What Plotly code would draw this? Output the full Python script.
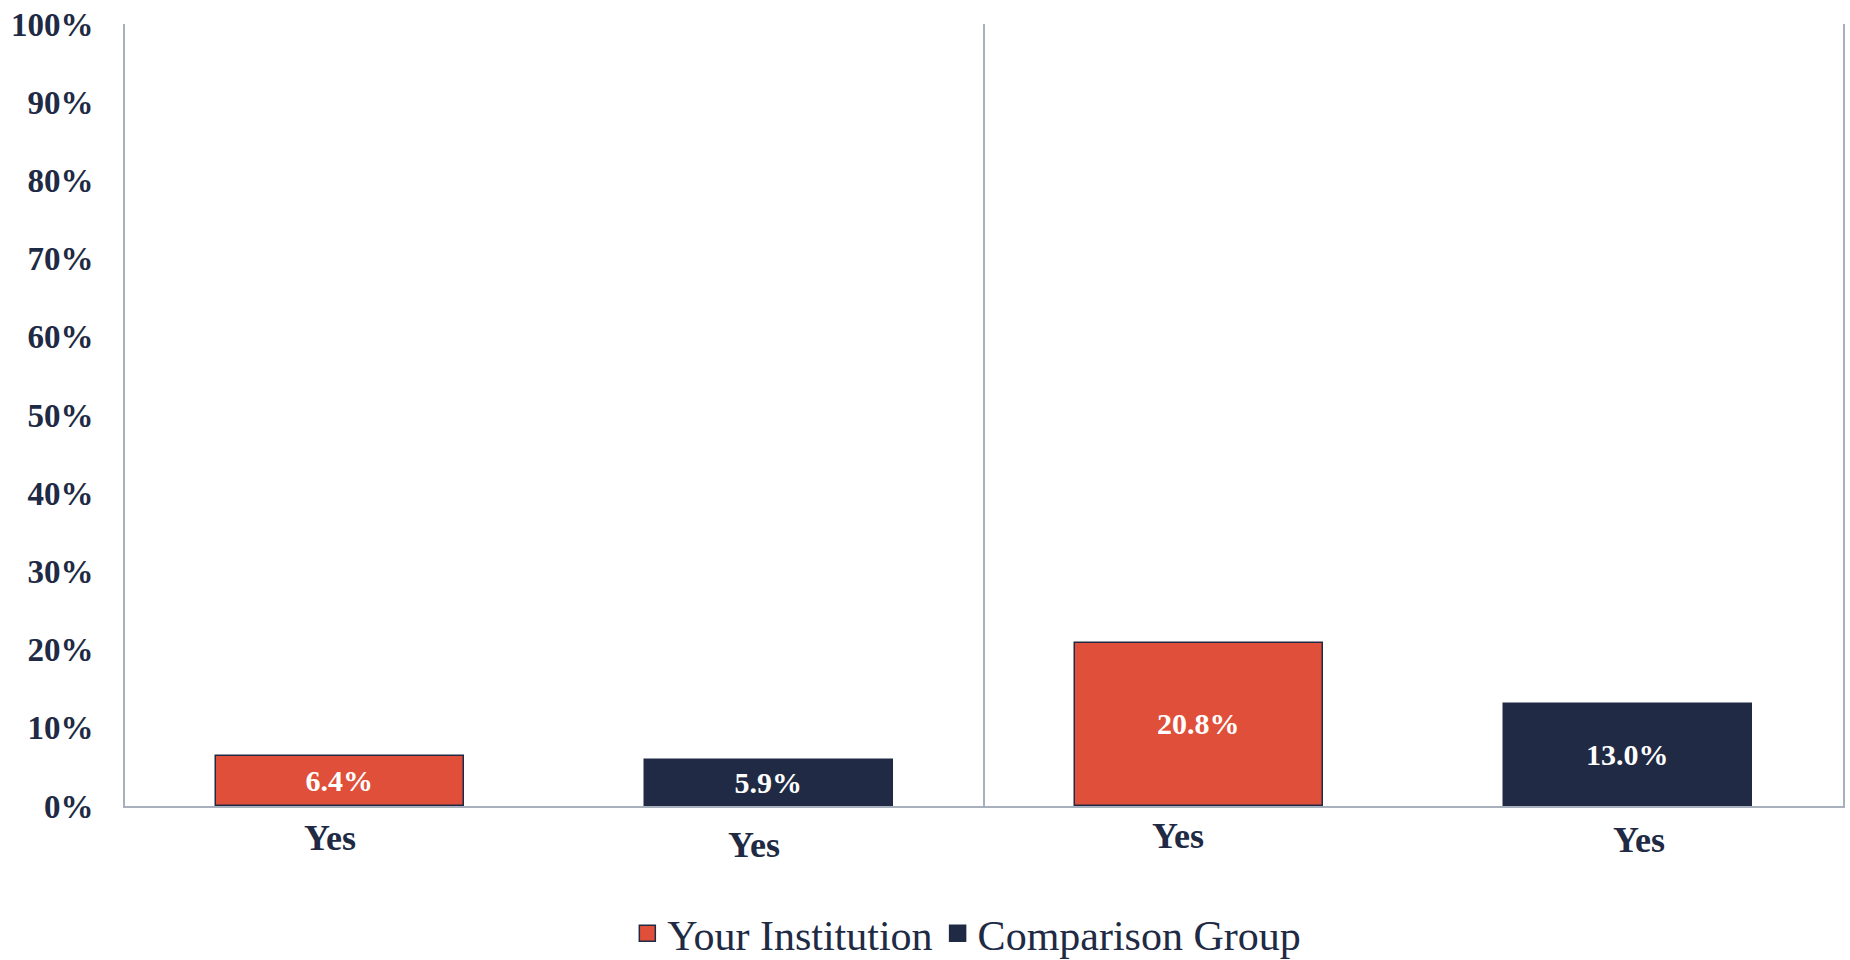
import plotly.graph_objects as go

categories = ["Yes", "Yes", "Yes", "Yes"]
inst_x = [0, 2]
inst_values = [6.4, 20.8]
comp_x = [1, 3]
comp_values = [5.9, 13.0]
y_ticks = [0, 10, 20, 30, 40, 50, 60, 70, 80, 90, 100]
y_tick_labels = [f"{v}%" for v in y_ticks]

ORANGE = "#E04F39"
NAVY = "#202A44"
AXIS = "#A7B0BC"
FONT = "Liberation Serif"

fig = go.Figure()
fig.add_trace(go.Bar(
    x=inst_x, y=inst_values, name="Your Institution", showlegend=False,
    marker=dict(color=ORANGE, line=dict(color=NAVY, width=1.5)),
    width=0.577,
    text=[f"{v:.1f}%" for v in inst_values], textposition="inside",
    insidetextanchor="middle", constraintext="none",
    textfont=dict(family=FONT, size=30, color="white", weight="bold"),
))
fig.add_trace(go.Bar(
    x=comp_x, y=comp_values, name="Comparison Group", showlegend=False,
    marker=dict(color=NAVY, line=dict(color=NAVY, width=1.5)),
    width=0.577,
    text=[f"{v:.1f}%" for v in comp_values], textposition="inside",
    insidetextanchor="middle", constraintext="none",
    textfont=dict(family=FONT, size=30, color="white", weight="bold"),
))
# legend entries with larger square swatches
for name, col in [("Your Institution", ORANGE), ("Comparison Group", NAVY)]:
    fig.add_trace(go.Scatter(
        x=[None], y=[None], mode="markers", name=name,
        marker=dict(symbol="square", size=22, color=col,
                    line=dict(color=NAVY, width=1.5)),
    ))

# category labels (slightly staggered as in the original)
yshifts = [-32, -39, -30, -34]
xshifts = [-10, -15, -21, 11]
for i, lab in enumerate(categories):
    fig.add_annotation(x=i, y=0, xref="x", yref="y", text=lab, showarrow=False,
                       yshift=yshifts[i], xshift=xshifts[i],
                       font=dict(family=FONT, size=36, color=NAVY, weight="bold"))

fig.add_shape(type="line", xref="x", yref="paper", x0=1.5, x1=1.5, y0=0, y1=1,
              line=dict(color=AXIS, width=2))

fig.update_layout(
    width=1850, height=960,
    margin=dict(l=125, r=7, t=24, b=154, autoexpand=False),
    plot_bgcolor="white", paper_bgcolor="white",
    barmode="overlay", bargap=0,
    showlegend=True,
    legend=dict(orientation="h", x=0.49, xanchor="center", xref="paper",
                y=-0.163, yanchor="middle",
                font=dict(family=FONT, size=42, color=NAVY),
                itemsizing="trace", itemwidth=30),
    xaxis=dict(range=[-0.5, 3.5], showticklabels=False, showgrid=False,
               zeroline=False, showline=True, linecolor=AXIS, linewidth=2,
               automargin=False, fixedrange=True),
    yaxis=dict(range=[0, 100], tickvals=y_ticks, ticktext=y_tick_labels,
               showgrid=False, zeroline=False, showline=True, linecolor=AXIS,
               linewidth=2, mirror=True, ticklabelstandoff=23, automargin=False,
               tickfont=dict(family=FONT, size=33, color=NAVY, weight="bold")),
)

fig.write_html("out.html", config={"displayModeBar": False},
               post_script="document.body.style.margin='0';document.body.style.overflow='hidden';")
